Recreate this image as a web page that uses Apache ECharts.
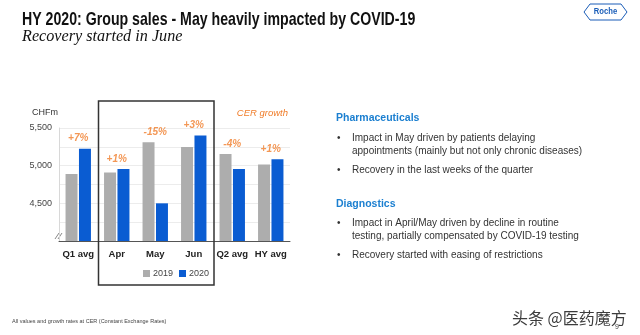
<!DOCTYPE html>
<html>
<head>
<meta charset="utf-8">
<script src="https://cdn.jsdelivr.net/npm/echarts@6/dist/echarts.min.js"></script>
<style>
  html, body { margin: 0; padding: 0; background: #fff; }
  #chart { width: 640px; height: 335px; }
</style>
</head>
<body>
<div id="chart"></div>
<script>
// Monthly / average group sales, CHF millions
const categories = ['Q1 avg', 'Apr', 'May', 'Jun', 'Q2 avg', 'HY avg'];
const sales2019 = [4890, 4910, 5310, 5248, 5155, 5017];
const sales2020 = [5225, 4955, 4500, 5400, 4955, 5084];
const growthLabels = ['+7%', '+1%', '-15%', '+3%', '-4%', '+1%'];
const yTickLabels = [4500, 5000, 5500];

const GRAY = '#ADADAD';
const BLUE = '#0A5CD2';
const ORANGE = '#F07D2A';
const SANS = '"Liberation Sans", Arial, sans-serif';

const chart = echarts.init(document.getElementById('chart'), null, { renderer: 'canvas' });

chart.setOption({
  animation: false,
  backgroundColor: '#ffffff',
  textStyle: { fontFamily: SANS },
  grid: { left: 59, right: 350, top: 128, bottom: 94, containLabel: false },
  legend: {
    data: ['2019', '2020'],
    left: 138, top: 264,
    itemWidth: 7, itemHeight: 7, itemGap: 6,
    icon: 'rect',
    textStyle: { fontSize: 9, color: '#444', padding: [0, 0, 0, -2] }
  },
  xAxis: {
    type: 'category',
    data: categories,
    axisTick: { show: false },
    axisLine: { lineStyle: { color: '#555', width: 1 } },
    axisLabel: { color: '#222', fontSize: 9.5, fontWeight: 'bold', margin: 8, interval: 0 }
  },
  yAxis: {
    type: 'value',
    min: 4000, max: 5500, interval: 250,
    axisLine: { show: true, lineStyle: { color: '#d8d8d8' } },
    axisTick: { show: false },
    splitLine: { lineStyle: { color: '#ececec', width: 1 } },
    axisLabel: {
      color: '#444', fontSize: 9, margin: 7,
      formatter: v => yTickLabels.includes(v) ? v.toLocaleString('en-US') : ''
    }
  },
  series: [
    {
      name: '2019', type: 'bar', data: sales2019,
      itemStyle: { color: GRAY },
      barGap: '12%', barCategoryGap: '34%'
    },
    {
      name: '2020', type: 'bar', data: sales2020,
      itemStyle: { color: BLUE }
    },
    {
      // growth label sits above the taller bar of each pair
      name: 'growth', type: 'scatter',
      data: categories.map((c, i) => [c, Math.max(sales2019[i], sales2020[i])]),
      symbolSize: 0,
      silent: true,
      label: {
        show: true, position: 'top', distance: 5,
        formatter: p => growthLabels[p.dataIndex],
        color: ORANGE, fontSize: 10, fontWeight: 'bold', fontStyle: 'italic'
      }
    }
  ]
});

// Frame around the monthly Q2 categories (Apr–Jun), aligned to category boundaries
const xStart = chart.convertToPixel({ xAxisIndex: 0 }, 'Apr');
const xEnd = chart.convertToPixel({ xAxisIndex: 0 }, 'Jun');
const step = (xEnd - xStart) / 2;

function text(left, top, str, font, fill, extra) {
  return Object.assign({ type: 'text', left, top, style: { text: str, font, fill } }, extra || {});
}

const bodyFont = '10px ' + SANS;
const headFont = 'bold 10.5px ' + SANS;
const TXT = '#333';
const HEAD = '#1B7FD0';

chart.setOption({
  graphic: [
    {
      type: 'rect',
      shape: { x: xStart - step / 2 + 1, y: 101, width: 3 * step, height: 184 },
      style: { fill: 'none', stroke: '#333', lineWidth: 1.5 },
      z: 10
    },
    {
      type: 'text', x: 22, y: 10, scaleX: 0.765,
      style: {
        text: 'HY 2020: Group sales - May heavily impacted by COVID-19',
        font: 'bold 18.5px ' + SANS, fill: '#111'
      }
    },
    text(22, 29, 'Recovery started in June', 'italic 16.2px "Liberation Serif", "DejaVu Serif", serif', '#111'),
    // Roche logo
    {
      type: 'polygon',
      shape: { points: [[584, 12], [590, 4], [621, 4], [627, 12], [621, 20], [590, 20]] },
      style: { fill: 'none', stroke: '#1A5DB8', lineWidth: 1 }
    },
    {
      type: 'text', x: 605.5, y: 12, scaleX: 0.85,
      style: { text: 'Roche', font: 'bold 9px ' + SANS, fill: '#1A5DB8', align: 'center', verticalAlign: 'middle' }
    },
    text(32, 108, 'CHFm', '9px ' + SANS, '#333'),
    { type: 'text', right: 352, top: 108, style: { text: 'CER growth', font: 'italic 9.5px ' + SANS, fill: ORANGE } },
    // axis break mark
    { type: 'line', shape: { x1: 55, y1: 239, x2: 59, y2: 233 }, style: { stroke: '#888', lineWidth: 1 } },
    { type: 'line', shape: { x1: 58, y1: 239, x2: 62, y2: 233 }, style: { stroke: '#888', lineWidth: 1 } },
    // right-hand commentary
    text(336, 113, 'Pharmaceuticals', headFont, HEAD),
    text(337, 133, '•', bodyFont, TXT),
    text(352, 133, 'Impact in May driven by patients delaying', bodyFont, TXT),
    text(352, 146, 'appointments (mainly but not only chronic diseases)', bodyFont, TXT),
    text(337, 165, '•', bodyFont, TXT),
    text(352, 165, 'Recovery in the last weeks of the quarter', bodyFont, TXT),
    text(336, 199, 'Diagnostics', headFont, HEAD),
    text(337, 218, '•', bodyFont, TXT),
    text(352, 218, 'Impact in April/May driven by decline in routine', bodyFont, TXT),
    text(352, 231, 'testing, partially compensated by COVID-19 testing', bodyFont, TXT),
    text(337, 250, '•', bodyFont, TXT),
    text(352, 250, 'Recovery started with easing of restrictions', bodyFont, TXT),
    // footer
    text(12, 318, 'All values and growth rates at CER (Constant Exchange Rates)', '5.5px ' + SANS, '#444'),
    {
      type: 'text', left: 511, top: 309, z: 20,
      style: {
        text: '头条 @医药魔方',
        font: '16px "Noto Sans CJK SC", sans-serif',
        fill: '#3c3c3c', stroke: '#ffffff', lineWidth: 2
      }
    },
    text(615, 324, '9', '7px ' + SANS, '#444', { z: 21 })
  ]
});
</script>
</body>
</html>
